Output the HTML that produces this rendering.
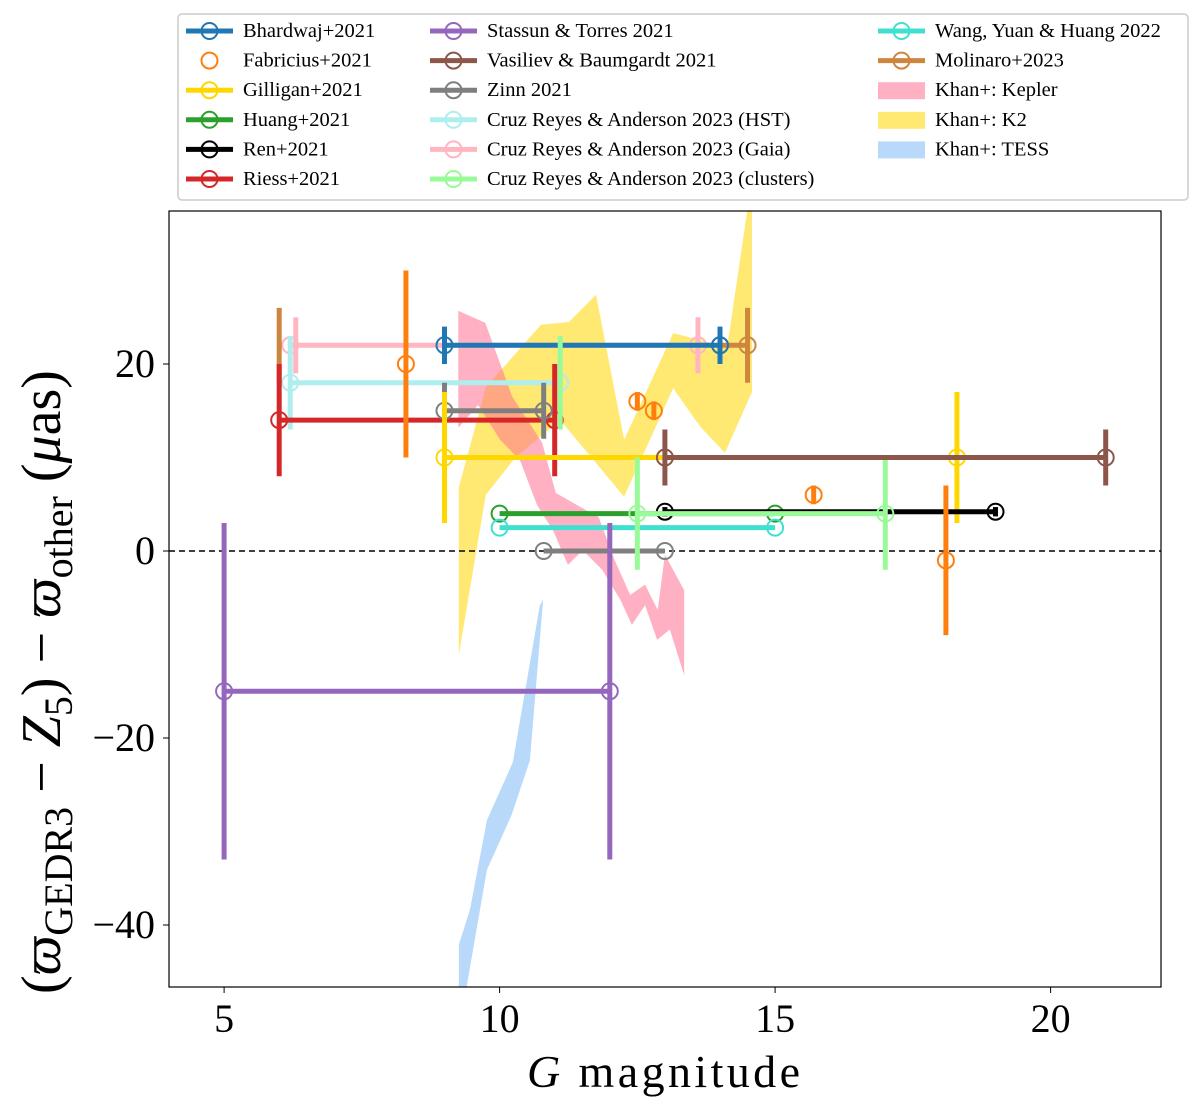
<!DOCTYPE html>
<html><head><meta charset="utf-8"><style>
body{margin:0;background:#fff}
svg text{font-family:"Liberation Serif",serif}
</style></head><body>
<svg id="chart" width="1200" height="1107" viewBox="0 0 1200 1107" xmlns="http://www.w3.org/2000/svg">
<defs><clipPath id="clip"><rect x="169" y="211" width="992" height="776"/></clipPath></defs>
<rect width="1200" height="1107" fill="#fff"/>
<g id="plot" clip-path="url(#clip)"></g>
<g id="axes"></g>
<g id="legend"></g>
</svg>
<script>
// ---- data ----
const xTicks=[5,10,15,20];
const yTicks=[20,0,-20,-40];
const yTickLabels=["20","0","\u221220","\u221240"];
const keplerX=[9.25,9.74,10.23,10.77,11.02,11.50,11.80,12.09,12.37,12.64,12.87,13.00,13.35,13.35,13.09,12.86,12.64,12.40,12.19,11.86,11.51,11.24,10.97,10.68,10.37,10.01,9.61,9.25];
const keplerY=[25.7,24.4,16.5,11.6,6.2,4.6,3.6,-1.0,-4.7,-3.6,-6.3,-0.4,-4.2,-13.3,-8.4,-9.5,-5.8,-7.9,-5.2,-2.0,0.1,-1.5,2.2,4.9,9.7,11.9,15.6,13.2];
const k2X=[9.26,9.26,9.75,10.75,11.26,11.75,12.26,13.15,14.13,14.51,14.58,14.58,14.09,13.64,13.15,12.26,11.10,10.30,9.75,9.26];
const k2Y=[-11.1,6.8,17.5,24.2,24.5,27.4,11.9,23.3,21.8,37,37,17.0,10.5,13.3,17.4,5.8,14.0,10.1,6.0,-11.1];
const tessX=[9.26,9.26,9.46,9.77,10.24,10.73,10.79,10.55,10.22,9.77,9.39];
const tessY=[-47,-42.1,-38.4,-28.8,-22.6,-5.8,-5.2,-22.4,-28.2,-34.1,-47];
const bhardwajSeg=[[9,14,22]]; const bhardwajErr=[[9,22,2],[14,22,2]];
const fabriciusPts=[[8.3,20,10],[18.1,-1,8],[12.5,16,1],[12.8,15,1],[15.7,6,1]];
const gilliganSeg=[[9,13,10]]; const gilliganErr=[[9,10,7],[18.3,10,7]];
const gilliganPts=[[18.3,10]];
const huangSeg=[[10,15,4]];
const renSeg=[[13,19,4.2]]; const renErr=[[13,4.2,0.5],[19,4.2,0.5]];
const riessSeg=[[6,11,14]]; const riessErr=[[6,14,6],[11,14,6]];
const stassunSeg=[[5,12,-15]]; const stassunErr=[[5,-15,18],[12,-15,18]];
const vasilievSeg=[[13,21,10]]; const vasilievErr=[[13,10,3],[21,10,3]];
const zinnSeg=[[9,10.8,15],[10.8,13,0]]; const zinnErr=[[9,15,3],[10.8,15,3]];
const hstSeg=[[6.2,11.1,18]]; const hstErr=[[6.2,18,5],[11.1,18,5]];
const gaiaSeg=[[6.2,13.6,22]]; const gaiaErr=[[6.3,22,3],[13.6,22,3]];
const clusterSeg=[[12.5,17,4]]; const clusterErr=[[11.1,18,5],[12.5,4,6],[17,4,6]];
const wangSeg=[[10,15,2.5]];
const molinaroSeg=[[14,14.5,22]]; const molinaroErr=[[6,22,4],[14.5,22,4]];
// ---- scales ----
const X=v=>169+(v-4)*55.1, Y=v=>551-v*9.35;
const NS="http://www.w3.org/2000/svg";
function mk(tag,attrs,parent){const e=document.createElementNS(NS,tag);for(const k in attrs)e.setAttribute(k,attrs[k]);parent.appendChild(e);return e;}
const plot=document.getElementById('plot'),axes=document.getElementById('axes'),leg=document.getElementById('legend');
function band(xs,ys,color,name){const p=mk('polygon',{points:xs.map((x,i)=>X(x)+','+Y(ys[i])).join(' '),fill:color,'fill-opacity':0.55},plot);

}
band(k2X,k2Y,'#ffd700','khan-k2-band');
band(keplerX,keplerY,'#ff6f8f','khan-kepler-band');
band(tessX,tessY,'#7fbaf7','khan-tess-band');
const zl=mk('line',{x1:169,x2:1161,y1:Y(0),y2:Y(0),stroke:'#000','stroke-width':1.5,'stroke-dasharray':'6,4'},plot);


function series(name,color,segs,errs,pts){
 const g=mk('g',{},plot);
 
 
 (errs||[]).forEach(e=>{const l=mk('line',{x1:X(e[0]),x2:X(e[0]),y1:Y(e[1]+e[2]),y2:Y(e[1]-e[2]),stroke:color,'stroke-width':5},g);
  
  });
 (segs||[]).forEach(s=>{const l=mk('line',{x1:X(s[0]),x2:X(s[1]),y1:Y(s[2]),y2:Y(s[2]),stroke:color,'stroke-width':5},g);
  
  
  [s[0],s[1]].forEach(x=>{const c=mk('circle',{cx:X(x),cy:Y(s[2]),r:8,fill:'none',stroke:color,'stroke-width':2},g);
   
   });});
 (pts||[]).forEach(p=>{if(p.length>2){const l=mk('line',{x1:X(p[0]),x2:X(p[0]),y1:Y(p[1]+p[2]),y2:Y(p[1]-p[2]),stroke:color,'stroke-width':5},g);
  
  }
  const c=mk('circle',{cx:X(p[0]),cy:Y(p[1]),r:8,fill:'none',stroke:color,'stroke-width':2},g);
  
  });
}
series('cruz-gaia-series','#ffb6c1',gaiaSeg,gaiaErr);
series('cruz-hst-series','#afeeee',hstSeg,hstErr);
series('molinaro-series','#cd853f',molinaroSeg,molinaroErr);
series('riess-series','#d62728',riessSeg,riessErr);
series('bhardwaj-series','#1f77b4',bhardwajSeg,bhardwajErr);
series('zinn-series','#7f7f7f',zinnSeg,zinnErr);
series('gilligan-series','#ffd700',gilliganSeg,gilliganErr,gilliganPts);
series('huang-series','#2ca02c',huangSeg,[]);
series('wang-series','#40e0d0',wangSeg,[]);
series('ren-series','#000000',renSeg,renErr);
series('cruz-clusters-series','#98fb98',clusterSeg,clusterErr);
series('vasiliev-series','#8c564b',vasilievSeg,vasilievErr);
series('stassun-series','#9467bd',stassunSeg,stassunErr);
series('fabricius-series','#ff7f0e',[],[],fabriciusPts);
const fr=mk('rect',{x:169,y:211,width:992,height:776,fill:'none',stroke:'#000','stroke-width':1.2},axes);


xTicks.forEach(t=>{mk('line',{x1:X(t),x2:X(t),y1:987,y2:993,stroke:'#000'},axes);
 const tx=mk('text',{x:X(t),y:1032,'font-size':40,'text-anchor':'middle'},axes);tx.textContent=t;
 
 });
yTicks.forEach((t,i)=>{mk('line',{x1:163,x2:169,y1:Y(t),y2:Y(t),stroke:'#000'},axes);
 const tx=mk('text',{x:155,y:Y(t)+13,'font-size':40,'text-anchor':'end'},axes);tx.textContent=yTickLabels[i];
 
 });
const xl=mk('text',{x:527,y:1087,'font-size':46,textLength:273,lengthAdjust:'spacing'},axes);
xl.innerHTML='<tspan font-style="italic">G</tspan> magnitude';


const yl=mk('text',{x:0,y:0,'font-size':56,'text-anchor':'middle',transform:'translate(60,682) rotate(-90)'},axes);
yl.innerHTML='(<tspan font-style="italic">ϖ</tspan><tspan font-size="40" dy="12">GEDR3</tspan><tspan dy="-12"> − </tspan><tspan font-style="italic">Z</tspan><tspan font-size="40" dy="12">5</tspan><tspan dy="-12">) − </tspan><tspan font-style="italic">ϖ</tspan><tspan font-size="40" dy="12">other</tspan><tspan dy="-12"> (</tspan><tspan font-style="italic">μ</tspan>as)';


const lb=mk('rect',{x:178,y:14,width:1010,height:186,rx:4,fill:'#fff',stroke:'#ccc','stroke-width':1.5},leg);


const legendLabels=[["Bhardwaj+2021","#1f77b4","lc"],["Fabricius+2021","#ff7f0e","c"],["Gilligan+2021","#ffd700","lc"],["Huang+2021","#2ca02c","lc"],["Ren+2021","#000000","lc"],["Riess+2021","#d62728","lc"],
["Stassun & Torres 2021","#9467bd","lc"],["Vasiliev & Baumgardt 2021","#8c564b","lc"],["Zinn 2021","#7f7f7f","lc"],["Cruz Reyes & Anderson 2023 (HST)","#afeeee","lc"],["Cruz Reyes & Anderson 2023 (Gaia)","#ffb6c1","lc"],["Cruz Reyes & Anderson 2023 (clusters)","#98fb98","lc"],
["Wang, Yuan & Huang 2022","#40e0d0","lc"],["Molinaro+2023","#cd853f","lc"],["Khan+: Kepler","#ff6f8f","f"],["Khan+: K2","#ffd700","f"],["Khan+: TESS","#7fbaf7","f"]];
const colX=[186,430,878];
legendLabels.forEach((L,i)=>{const col=Math.floor(i/6),row=i%6;const x=colX[col],y=31+row*29.6;
 const g=mk('g',{},leg);
 
 
 if(L[2]==='f'){mk('rect',{x:x,y:y-8,width:47,height:17,fill:L[1],'fill-opacity':0.55},g);}
 else{ if(L[2]==='lc')mk('line',{x1:x,x2:x+47,y1:y,y2:y,stroke:L[1],'stroke-width':5},g);
  mk('circle',{cx:x+23.5,cy:y,r:8,fill:'none',stroke:L[1],'stroke-width':2},g);}
 const t=mk('text',{x:x+57,y:y+6,'font-size':20.5},g);t.textContent=L[0];});
</script>
</body></html>
